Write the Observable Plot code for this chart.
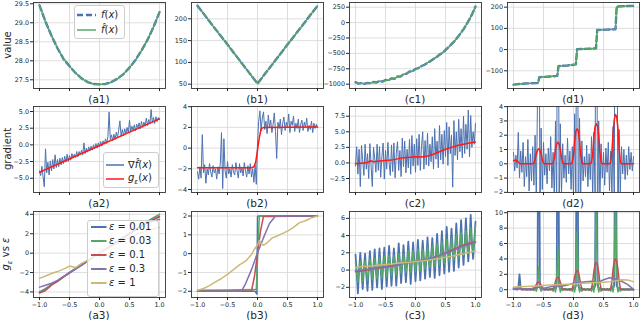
<!DOCTYPE html>
<html><head><meta charset="utf-8">
<script src="https://cdn.jsdelivr.net/npm/d3@7"></script>
<script src="https://cdn.jsdelivr.net/npm/@observablehq/plot@0.6"></script>
<style>
body{margin:0;background:#fff;}
#fig{position:relative;width:640px;height:320px;overflow:hidden;font-family:"DejaVu Sans",sans-serif;color:#262626;}
#fig svg.plot{position:absolute;}
.ttl{position:absolute;font-size:10.5px;transform:translate(-50%,-50%);white-space:nowrap;}
.ylab{position:absolute;font-size:10px;transform:translate(-50%,-50%) rotate(-90deg);white-space:nowrap;}
.leg{position:absolute;background:rgba(255,255,255,0.8);border:1px solid #cccccc;border-radius:3px;box-sizing:border-box;}
.lt{position:absolute;font-size:10px;white-space:nowrap;transform:translateY(-50%);line-height:1;}
.sw{position:absolute;overflow:visible;}
</style></head><body><div id="fig"></div><script>
// ---------- data ----------
const X101 = d3.range(101).map(i => +(-1 + i * 0.02).toFixed(2));
const X21 = d3.range(21).map(i => +(-1 + i * 0.1).toFixed(1));
const X41 = d3.range(41).map(i => +(-1 + i * 0.05).toFixed(2));

// row 1: f(x) and f̂(x)
const a1F = [29.46,29.03,28.66,28.33,28.05,27.86,27.68,27.54,27.44,27.39,27.38,27.39,27.44,27.53,27.65,27.82,28.02,28.27,28.55,28.89,29.28];
const b1X = [-1,-0.75,-0.5,-0.25,0,0.25,0.5,0.75,1];
const b1F = [230,185,141,96,51.5,96,141,185,230];
const c1F = [-968,-990,-982,-995,-978,-985,-965,-972,-950,-958,-932,-938,-905,-912,-875,-878,-838,-830,-795,-790,-752,-738,-705,-685,-652,-625,-592,-560,-520,-490,-445,-400,-350,-300,-240,-175,-110,-30,55,150,262];
const d1X = [-1,-0.8,-0.59,-0.57,-0.4,-0.27,-0.25,-0.1,0.04,0.06,0.25,0.375,0.395,0.55,0.7,0.72,0.85,1.0];
const d1F = [-165,-160,-158,-130,-127,-124,-78,-75,-70,2,4,6,92,94,96,203,205,206];

// row 2: gradient estimate (blue) and g_eps (red)
const a2G = [-3.9,-4.6,-3.2,-4.8,-6.3,-0.6,-4.2,-2.6,-4.5,-2.4,
 -3.9,-2.2,-3.6,-1.5,-3.4,-2.2,-3.3,-2.0,-3.0,-1.9,
 -2.8,-1.7,-2.6,-1.4,-2.5,-1.6,-2.3,-1.3,-2.0,-1.4,
 -1.9,-1.0,-1.8,-1.0,-1.5,-0.8,-1.5,0.3,-1.3,-0.5,
 -1.1,-0.3,-0.9,-0.2,-0.8,0.0,-0.6,0.2,-0.5,0.3,
 -0.3,0.5,-0.2,0.6,0.1,0.9,0.2,1.2,4.9,0.8,
 1.5,0.6,1.6,0.8,1.9,1.1,2.2,3.6,1.3,2.3,
 1.4,2.4,1.7,2.6,1.8,3.7,2.0,2.8,2.2,3.0,
 2.1,3.1,2.5,3.3,2.4,3.5,2.6,3.4,2.8,4.0,
 2.9,3.8,3.1,5.3,3.3,4.1,3.2,4.2,3.5,4.1,
 3.8];
const a2RX = [-1,0,1];
const a2R = [-4.1,-0.1,3.9];
const b2G = [-2.3,-3.0,-1.8,-2.9,1.3,-2.4,-1.6,-3.4,-2.0,-2.6,
 -1.5,-2.3,-2.8,-1.7,-2.4,-2.0,-3.0,-1.8,-2.5,-1.5,
 1.5,-3.9,0.9,-2.2,-2.9,-1.3,-2.5,-2.0,-2.8,-1.6,
 -2.3,-2.6,-1.4,-2.2,-2.9,-1.5,-2.4,-1.9,-2.7,-1.4,
 -2.2,-2.8,-1.7,-2.5,-1.5,-2.8,-2.0,-3.3,-1.6,-3.5,
 0.5,2.6,3.6,1.7,2.9,3.5,1.8,2.6,1.4,3.2,
 2.0,2.7,1.5,2.3,3.4,1.6,-1.0,2.5,1.9,2.8,
 1.3,2.4,3.0,1.7,2.5,2.0,3.3,1.5,2.6,2.2,
 3.1,1.6,2.4,1.9,2.8,1.5,2.3,2.7,1.7,2.5,
 2.0,2.9,1.6,2.2,1.8,2.6,1.5,2.4,1.9,2.3,
 2.0];
const b2RX = [-1,-0.1,-0.06,-0.03,0,0.03,0.06,0.1,1];
const b2R = [-1.9,-1.9,-1.8,-1.35,-0.2,1.0,1.85,2.0,2.05];
const c2G = [-0.5,2.6,-1.8,2.2,-3.8,2.8,0.5,-2.0,3.0,-1.0,
 1.5,-2.5,3.1,-0.5,-3.8,2.5,0.8,-1.5,3.0,-1.2,
 2.6,-2.3,1.0,3.2,-2.6,2.0,-1.0,3.3,0.0,-2.0,
 2.9,-1.4,3.2,-2.4,1.5,3.4,-1.2,2.0,-2.2,4.0,
 -0.6,3.5,-1.6,2.2,-0.8,3.8,-1.8,4.4,-0.5,3.0,
 -1.5,3.9,-0.4,4.6,-1.2,2.6,5.0,-1.0,3.6,-0.3,
 4.8,-0.5,3.0,0.2,4.2,-1.0,5.5,0.6,3.5,-0.8,
 6.0,0.5,4.6,-0.2,5.2,1.0,6.5,-0.4,5.8,1.5,
 4.5,-3.9,6.8,1.2,5.0,0.5,7.0,1.8,5.5,0.8,
 7.5,1.5,6.2,2.2,8.5,1.0,7.6,2.5,5.0,3.0,
 6.3];
const c2RX = [-1,-0.9,-0.8,-0.75,-0.7,-0.6,-0.5,-0.4,-0.3,-0.2,-0.1,0,0.1,0.2,0.3,0.4,0.5,0.6,0.7,0.8,0.9,1.0];
const c2R = [-0.15,-0.05,0.05,0.35,0.2,0.3,0.4,0.45,0.65,0.85,0.9,1.0,0.95,1.1,1.4,1.8,2.2,2.5,2.8,3.0,3.2,3.35];
const d2G = [0.8,-0.5,0.6,-0.3,2.2,-1.0,0.9,-0.6,1.5,-1.6,
 0.5,-0.9,1.7,-1.9,0.7,-1.2,1.2,-1.5,2.0,-2.5,
 4.5,30,-5,2.5,-1.8,1.5,-0.8,0.7,-1.4,1.1,
 -0.5,1.9,-1.7,0.8,-2.6,3.0,-3.0,30,-4,2.8,
 -2.2,1.4,-1.0,0.6,-1.3,1.8,-0.7,0.9,-1.8,1.2,
 -2.5,3.5,-3.0,30,-6,3.2,-2.0,1.6,-1.2,0.5,
 -0.9,1.3,-1.6,0.7,-1.1,1.9,-2.4,2.2,-2.0,30,
 -6,3.0,-2.6,1.4,-1.0,0.8,-1.5,1.1,-0.6,1.5,
 -1.9,0.9,-2.2,2.6,-3.0,30,20,-5,2.4,-2.0,
 1.2,-0.7,1.0,-1.1,0.6,-0.8,1.2,-0.4,0.8,-0.5,
 0.5];
const d2R = [0.2,0.25,0.25,0.22,0.12,0.03,0,0,0,0,
 0,0,0,0,0,0,0,0.05,0.3,0.7,
 0.95,1.05,0.95,0.7,0.3,0.05,0,0,0,0,
 0,0,0,0.05,0.4,1.0,1.4,1.5,1.4,1.0,
 0.4,0.05,0,0,0,0,0,0,0,0.1,
 0.6,1.6,2.3,2.45,2.3,1.6,0.6,0.1,0,0,
 0,0,0,0,0,0.1,0.7,1.9,2.6,2.8,
 2.65,2.0,0.8,0.1,0,0,0,0,0,0,
 0,0.1,0.8,2.2,3.1,3.45,3.3,2.5,1.1,0.15,
 0,0,0,0,0,0,0,0,0,0,
 0];

// row 3: g_eps for several eps
const epsLabels = ["0.01","0.03","0.1","0.3","1"];
const a3 = [
 [-4.0,-3.65,-3.25,-2.85,-2.45,-2.05,-1.65,-1.25,-0.85,-0.42,0.0,0.4,0.8,1.2,1.6,2.0,2.4,2.8,3.15,3.45,3.75],
 [-4.05,-3.75,-3.2,-2.9,-2.45,-2.0,-1.6,-1.2,-0.8,-0.4,0.0,0.4,0.8,1.2,1.6,2.0,2.4,2.85,3.3,3.65,4.0],
 [-4.1,-3.85,-3.3,-2.9,-2.45,-2.0,-1.6,-1.2,-0.8,-0.4,0.0,0.4,0.8,1.2,1.6,2.0,2.4,2.8,3.2,3.5,3.8],
 [-3.5,-3.3,-3.1,-2.8,-2.4,-2.0,-1.6,-1.2,-0.8,-0.4,0.0,0.4,0.8,1.2,1.6,2.0,2.4,2.8,3.1,3.3,3.5],
 [-2.6,-2.35,-2.1,-1.9,-1.65,-1.33,-1.5,-1.05,-0.75,-0.4,0.0,0.35,0.7,1.0,1.3,1.6,1.85,2.1,2.3,2.5,2.65]
];
const b3X = [
 [-1,-0.04,-0.01,0.0,0.01,1],
 [-1,-0.5,-0.04,-0.02,0.03,0.5,1],
 [-1,-0.1,-0.05,0,0.05,0.1,1],
 [-1,-0.27,-0.2,-0.1,0,0.1,0.2,0.3,1],
 [-1,-0.9,-0.8,-0.7,-0.6,-0.5,-0.4,-0.3,-0.2,-0.1,-0.05,0,0.03,0.07,0.1,0.15,0.2,0.25,0.3,0.4,0.5,0.6,0.7,0.8,0.9,1.0]
];
const b3Y = [
 [-2.0,-2.0,-2.15,1.95,2.0,2.0],
 [-1.95,-1.93,-1.9,-1.9,2.0,2.02,2.0],
 [-2.0,-1.98,-1.2,0.0,1.2,1.98,2.0],
 [-2.0,-2.0,-1.6,-0.85,0.05,0.85,1.6,2.0,2.0],
 [-1.95,-1.85,-1.7,-1.5,-1.32,-1.1,-0.85,-0.6,-0.4,-0.05,0.25,0.45,0.7,0.5,0.45,0.55,0.7,0.85,0.9,1.05,1.2,1.4,1.65,1.75,1.9,2.0]
];
const c3Blue = [1.8,-0.3,-2.7,0.0,2.0,-0.2,-2.2,0.2,1.9,-0.5,
 -2.4,0.1,2.2,0.0,-2.3,0.4,2.4,0.0,-2.0,0.3,
 2.5,0.2,-2.2,0.5,2.6,0.3,-1.9,0.6,2.8,0.4,
 -1.8,0.5,2.5,0.7,-1.8,0.6,3.1,0.8,-1.5,0.7,
 2.9,0.9,-1.4,0.8,3.3,1.0,-1.6,0.9,3.2,1.1,
 -1.3,1.0,3.5,1.2,-1.2,1.1,3.4,1.3,-1.0,1.2,
 3.8,1.4,-0.8,1.5,3.7,1.5,-0.9,1.7,4.2,1.8,
 -0.6,1.9,4.5,2.0,-0.4,2.1,5.0,2.3,-0.2,2.4,
 4.8,2.4,-0.1,2.6,5.4,2.7,0.3,2.8,5.8,2.9,
 0.6,3.0,6.0,3.1,1.0,3.2,6.4,3.2,1.3,3.3,
 5.6];
const c3Green = [0.9,-0.2,-1.4,-0.1,1.0,-0.1,-1.3,0.0,1.1,-0.2,
 -1.2,0.1,1.3,0.1,-1.1,0.2,1.4,0.2,-1.0,0.3,
 1.5,0.3,-0.9,0.4,1.6,0.4,-0.8,0.5,1.7,0.5,
 -0.7,0.5,1.7,0.6,-0.6,0.6,1.9,0.7,-0.4,0.8,
 1.9,0.8,-0.3,0.9,2.2,0.9,-0.3,1.0,2.2,1.0,
 -0.2,1.0,2.4,1.1,-0.1,1.1,2.4,1.2,0.1,1.3,
 2.7,1.3,0.3,1.4,2.8,1.5,0.4,1.6,3.1,1.7,
 0.6,1.8,3.3,1.9,0.8,2.0,3.6,2.1,1.0,2.3,
 3.7,2.3,1.2,2.5,4.1,2.6,1.4,2.7,4.4,2.8,
 1.7,2.9,4.6,3.0,1.9,3.1,4.9,3.2,2.1,3.3,
 5.2];
const c3Red = [-0.2,-0.1,0.0,0.15,0.25,0.35,0.45,0.6,0.75,0.9,1.0,1.1,1.25,1.45,1.7,2.0,2.3,2.6,2.9,3.1,3.3];
const c3Purple = [-0.1,0.0,0.1,0.2,0.3,0.4,0.5,0.6,0.75,0.9,1.0,1.1,1.25,1.45,1.7,1.95,2.2,2.5,2.8,3.0,3.2];
const c3Gold = [0.3,0.4,0.45,0.5,0.6,0.65,0.7,0.8,0.85,0.9,1.0,1.05,1.15,1.25,1.35,1.5,1.6,1.75,1.9,2.05,2.2];
const d3Blue = [0.1,0.05,0.1,0.0,0.2,2.0,0.1,0.0,0.1,0.05,
 0.1,0.0,0.05,0.1,0.0,0.1,0.05,0.1,0.2,0.1,
 0.3,40,0.3,0.1,0.05,0.1,0.0,0.1,0.05,0.0,
 0.1,0.05,0.1,0.1,0.2,0.1,0.4,40,0.4,0.1,
 0.05,0.0,0.1,0.05,0.1,0.0,0.05,0.1,0.0,0.1,
 0.2,0.1,0.5,40,0.5,0.1,0.0,0.1,0.05,0.1,
 0.0,0.05,0.1,0.0,0.05,0.1,0.2,0.1,0.5,40,
 0.6,0.1,0.05,0.1,0.0,0.05,0.1,0.0,0.1,0.05,
 0.0,0.1,0.2,0.1,0.6,40,0.6,0.1,0.05,0.1,
 0.0,0.05,0.1,0.0,0.05,0.1,0.0,0.05,0.1,0.05,
 0.0];
const d3Green = [0.2,0.1,0.15,0.1,0.3,0.6,0.2,0.1,0.05,0.1,
 0.0,0.1,0.05,0.0,0.1,0.05,0.0,-0.1,0.2,-0.2,
 0.8,3.0,0.6,-0.2,0.1,0.0,0.05,0.0,0.1,0.0,
 0.05,0.0,0.1,-0.2,0.3,-0.3,1.5,5.5,1.2,-0.3,
 0.2,-0.1,0.1,0.0,0.05,0.0,0.1,-0.1,0.1,-0.2,
 0.4,-0.3,1.8,7.5,1.5,-0.3,0.3,-0.2,0.1,0.0,
 0.05,0.0,0.1,-0.1,0.1,-0.2,0.5,-0.3,2.5,12,
 2.0,-0.3,0.3,-0.2,0.1,0.0,0.05,0.0,0.1,-0.1,
 0.1,-0.2,0.5,-0.3,3.0,12,2.5,-0.3,0.3,-0.2,
 0.1,0.0,0.05,0.0,0.1,0.0,0.05,0.0,0.05,0.0,
 0.0];
const d3Red = [0.3,0.3,0.25,0.2,0.15,0.2,0.1,0.05,0.0,0.0,
 0.05,0.0,0.0,0.05,0.0,0.0,0.05,0.1,0.35,0.7,
 0.95,1.0,0.9,0.6,0.3,0.1,0.0,0.05,0.0,0.0,
 0.05,0.0,0.05,0.15,0.5,1.1,1.5,1.6,1.45,1.0,
 0.45,0.1,0.0,0.05,0.0,0.0,0.05,0.0,0.05,0.2,
 0.8,1.7,2.35,2.5,2.3,1.6,0.7,0.15,0.0,0.05,
 0.0,0.0,0.05,0.0,0.05,0.2,1.0,2.4,3.3,3.5,
 3.2,2.3,0.9,0.15,0.0,0.05,0.0,0.0,0.05,0.0,
 0.05,0.2,1.1,2.7,3.7,4.0,3.7,2.7,1.2,0.2,
 0.05,0.0,0.0,0.05,0.0,0.0,0.05,0.0,0.0,0.05,
 0.0];
const d3Purple = [0.15,0.1,0.05,0.15,0.35,0.2,0.35,0.55,0.45,0.6,0.85,0.95,1.05,1.1,0.9,1.3,1.55,1.4,1.1,0.7,0.05];
const d3Gold = [0.33,0.38,0.42,0.46,0.5,0.55,0.6,0.65,0.68,0.72,0.75,0.8,0.85,0.9,0.93,0.97,1.05,1.15,1.3,1.25,1.05];

const xTicks = [-1,-0.5,0,0.5,1];
const titles = ["a","b","c","d"];
const rowSuffix = ["1","2","3"];
const yLabelsHTML = ["value","gradient","<i>g</i><sub style='font-size:7px'><i>ε</i></sub> vs <i>ε</i>"];

// ---------- style ----------
const BLUE="#4C72B0", GREEN="#55A868", RED="#C44E52", PURPLE="#8172B2", GOLD="#CCB974", PURE_RED="#ff1a1a";
const EPS_COLORS=[BLUE,GREEN,RED,PURPLE,GOLD];
const COLS=[33,191,349,507], ROWS=[2,106,210.5];
const PW=132, PH=86, ML=30, MR=3, MT=4, MB=14;
const f1=d3.format(".1f"), fd=d3.format("d");

const fig=document.getElementById("fig");

function panel(ci, ri, yDomain, yTicks, yFmt, marks){
  const svg=Plot.plot({
    width:PW+ML+MR, height:PH+MT+MB,
    marginLeft:ML, marginRight:MR, marginTop:MT, marginBottom:MB,
    style:{fontFamily:"'DejaVu Sans', sans-serif", fontSize:"6.4px", color:"#262626", background:"transparent", overflow:"visible"},
    x:{domain:[-1.1,1.1]},
    y:{domain:yDomain},
    marks:[
      Plot.gridX({ticks:xTicks, stroke:"#d6d6d6", strokeOpacity:1, strokeWidth:0.8}),
      Plot.gridY({ticks:yTicks, stroke:"#d6d6d6", strokeOpacity:1, strokeWidth:0.8}),
      ...marks,
      Plot.frame({stroke:"#333", strokeWidth:0.9}),
      Plot.axisX({ticks:xTicks, tickSize:3, tickPadding:1.5, tickFormat: ri===2 ? f1 : () => "", label:null}),
      Plot.axisY({ticks:yTicks, tickSize:3, tickPadding:1.5, tickFormat:yFmt, label:null})
    ]
  });
  svg.classList.add("plot");
  svg.style.left=(COLS[ci]-ML)+"px";
  svg.style.top=(ROWS[ri]-MT)+"px";
  fig.append(svg);
  const t=document.createElement("div");
  t.className="ttl";
  t.textContent="("+titles[ci]+rowSuffix[ri]+")";
  t.style.left=(COLS[ci]+PW/2)+"px";
  t.style.top=(ROWS[ri]+PH+(ri===2?18.5:11))+"px";
  fig.append(t);
}

const L=(y,x,o)=>Plot.lineY(y,{x,clip:true,...o});
const fMarks=(y,x)=>[L(y,x,{stroke:BLUE,strokeWidth:2.4,strokeDasharray:"6,3"}),L(y,x,{stroke:GREEN,strokeWidth:1.3})];

// row 1
panel(0,0,[27.271,29.534],[27.5,28,28.5,29,29.5],f1,fMarks(a1F,X21));
panel(1,0,[40.1,237.4],[50,100,150,200],fd,fMarks(b1F,b1X));
panel(2,0,[-1070,326],[-1000,-750,-500,-250,0,250],fd,fMarks(c1F,X41));
panel(3,0,[-183.5,222],[-100,0,100,200],fd,fMarks(d1F,d1X));
// row 2
const gMarks=(g,r,rx)=>[L(g,X101,{stroke:BLUE,strokeWidth:1}),L(r,rx,{stroke:PURE_RED,strokeWidth:1.5})];
panel(0,1,[-7.14,5.75],[-5,-2.5,0,2.5,5],f1,gMarks(a2G,a2R,a2RX));
panel(1,1,[-4.29,4.02],[-4,-2,0,2,4],fd,gMarks(b2G,b2R,b2RX));
panel(2,1,[-4.75,9.06],[-2.5,0,2.5,5,7.5],f1,gMarks(c2G,c2R,c2RX));
panel(3,1,[-2.01,4.01],[-2,-1,0,1,2,3,4],fd,gMarks(d2G,d2R,X101));
// row 3
panel(0,2,[-4.57,4.29],[-4,-2,0,2,4],fd,a3.map((s,k)=>L(s,X21,{stroke:EPS_COLORS[k],strokeWidth:1.5})));
panel(1,2,[-2.33,2.24],[-2,-1,0,1,2],fd,b3Y.map((s,k)=>L(s,b3X[k],{stroke:EPS_COLORS[k],strokeWidth:1.5})));
panel(2,2,[-3.18,6.79],[-2,0,2,4,6],fd,[
  L(c3Blue,X101,{stroke:BLUE,strokeWidth:1.8}),
  L(c3Green,X101,{stroke:GREEN,strokeWidth:1.5}),
  L(c3Red,X21,{stroke:RED,strokeWidth:1.5}),
  L(c3Purple,X21,{stroke:PURPLE,strokeWidth:1.5}),
  L(c3Gold,X21,{stroke:GOLD,strokeWidth:1.5})]);
panel(3,2,[-1.01,10.16],[0,2,4,6,8,10],fd,[
  L(d3Blue,X101,{stroke:BLUE,strokeWidth:1.8}),
  L(d3Green,X101,{stroke:GREEN,strokeWidth:1.5}),
  L(d3Red,X101,{stroke:RED,strokeWidth:1.5}),
  L(d3Purple,X21,{stroke:PURPLE,strokeWidth:1.5}),
  L(d3Gold,X21,{stroke:GOLD,strokeWidth:1.5})]);

// y labels
[45,149,253.5].forEach((y,k)=>{
  const d=document.createElement("div");
  d.className="ylab"; d.innerHTML=yLabelsHTML[k];
  d.style.left="7px"; d.style.top=y+"px";
  fig.append(d);
});

// legends
function legend(box, sx0, sx1, tx, items){
  const b=document.createElement("div");
  b.className="leg";
  Object.assign(b.style,{left:box[0]+"px",top:box[1]+"px",width:box[2]+"px",height:box[3]+"px"});
  fig.append(b);
  items.forEach(it=>{
    const ns="http://www.w3.org/2000/svg";
    const s=document.createElementNS(ns,"svg");
    s.setAttribute("class","sw");
    s.setAttribute("width",sx1-sx0); s.setAttribute("height",6);
    s.style.left=sx0+"px"; s.style.top=(it.y-3)+"px";
    const ln=document.createElementNS(ns,"line");
    ln.setAttribute("x1",0); ln.setAttribute("x2",sx1-sx0); ln.setAttribute("y1",3); ln.setAttribute("y2",3);
    ln.setAttribute("stroke",it.color); ln.setAttribute("stroke-width",it.w);
    if(it.dash) ln.setAttribute("stroke-dasharray",it.dash);
    s.append(ln); fig.append(s);
    if(it.color2){
      const s2=s.cloneNode(true); fig.append(s2);
    }
    const t=document.createElement("div");
    t.className="lt"; t.innerHTML=it.html;
    t.style.left=tx+"px"; t.style.top=it.y+"px";
    fig.append(t);
  });
}
legend([74,5,51,34],77,96,101,[
  {y:14.5,color:BLUE,w:2.4,dash:"6,3",html:"<i>f</i>(<i>x</i>)"},
  {y:30,color:GREEN,w:1.5,html:"<i>f\u0302</i>(<i>x</i>)"}
]);
legend([103,152,56,36],106,124,128,[
  {y:165,color:BLUE,w:1.5,html:"∇<i>f\u0302</i>(<i>x</i>)"},
  {y:179.3,color:PURE_RED,w:1.5,html:"<i>g</i><sub style='font-size:7px'><i>ε</i></sub>(<i>x</i>)"}
]);
legend([87,219.5,72,77],90.5,106,109,epsLabels.map((e,k)=>({
  y:226.7+k*14, color:EPS_COLORS[k], w:2, html:"<i>ε</i> = "+e
})));
</script></body></html>
